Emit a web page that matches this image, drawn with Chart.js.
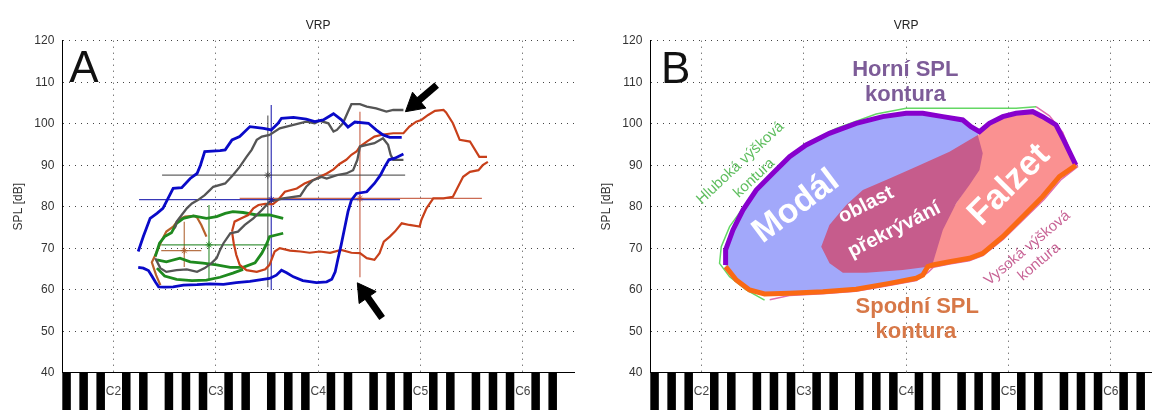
<!DOCTYPE html>
<html>
<head>
<meta charset="utf-8">
<script src="https://cdn.jsdelivr.net/npm/chart.js@4.4.0/dist/chart.umd.min.js"></script>
<style>
    html, body { margin: 0; padding: 0; background: #fff; width: 1152px; height: 410px; overflow: hidden; }
    .panel { position: absolute; top: 0; width: 576px; height: 410px; }
    #panelA { left: 0; }
    #panelB { left: 588px; }
</style>
</head>
<body>
<div class="panel" id="panelA"><canvas id="chartA" width="576" height="410"></canvas></div>
<div class="panel" id="panelB"><canvas id="chartB" width="576" height="410"></canvas></div>
<script>
// x = pitch in semitones (MIDI number, C2 = 36), y = SPL in dB
const PITCH_MIN = 30;
const PITCH_MAX = 90;
const SPL_MIN = 40;
const SPL_MAX = 120;
const octaveTicks = [36, 48, 60, 72, 84];
const octaveLabels = ['C2', 'C3', 'C4', 'C5', 'C6'];
const blackKeyClasses = [1, 3, 6, 8, 10]; // C#, D#, F#, G#, A#

// ---- panel A : measured voice range profiles ----
const blueUpper = [[38.9,69.2],[39.5,72.8],[40.3,77.2],[41.1,78.4],[41.8,79.6],[42.4,82.0],[43.0,84.4],[44.0,84.6],[45.0,86.8],[45.8,88.0],[46.2,90.0],[46.7,93.3],[48.5,93.5],[49.1,93.7],[49.9,96.1],[50.8,96.9],[52.0,99.3],[53.6,98.9],[54.5,98.5],[55.3,100.1],[55.7,101.3],[57.1,101.5],[58.6,101.1],[59.6,100.5],[60.6,100.9],[61.8,102.4],[62.7,101.0],[63.5,99.2],[64.3,100.4],[65.9,100.1],[66.8,98.5],[67.6,97.3],[68.4,96.7],[69.8,96.7]];
const blueLower = [[38.9,65.4],[39.5,65.2],[40.1,64.6],[40.5,63.3],[40.9,61.9],[41.3,60.7],[42.0,60.6],[43.0,60.7],[44.2,61.1],[45.8,61.2],[47.3,61.4],[48.9,61.3],[50.4,61.7],[52.0,62.0],[54.3,62.7],[55.1,63.5],[55.7,64.7],[56.3,64.1],[57.1,63.1],[58.2,62.2],[59.8,61.7],[61.0,61.9],[61.6,62.5],[62.0,64.3],[62.3,67.2],[62.7,70.8],[63.1,74.8],[63.5,78.8],[63.9,81.6],[64.5,83.2],[65.7,83.6],[66.6,85.6],[67.3,87.6],[67.8,89.6],[68.3,91.3],[69.0,91.7],[70.0,92.7]];
const grayUpper = [[43.2,74.8],[43.4,76.4],[44.0,78.0],[44.6,79.6],[45.2,80.8],[45.9,81.6],[46.7,82.8],[47.3,84.0],[47.7,84.8],[49.1,85.6],[50.0,87.6],[50.8,89.6],[51.6,92.0],[52.2,93.7],[52.8,96.1],[53.4,96.9],[54.3,97.3],[55.5,98.9],[57.1,99.7],[58.6,100.5],[59.6,100.1],[60.2,100.7],[61.2,100.1],[61.8,98.1],[62.2,98.5],[62.9,100.1],[63.5,102.9],[63.9,104.7],[64.9,104.7],[65.7,104.1],[66.8,103.7],[68.0,102.9],[68.8,103.3],[70.0,103.3]];
const grayLower = [[40.9,67.6],[41.5,65.2],[42.2,64.3],[43.4,64.7],[44.6,64.9],[45.8,64.3],[46.7,65.2],[47.5,66.4],[48.1,67.6],[48.5,69.6],[48.9,71.2],[49.7,73.6],[50.6,74.0],[51.4,75.6],[52.4,77.2],[53.4,79.2],[54.3,81.2],[55.9,82.0],[57.9,82.6],[58.6,84.8],[59.4,86.4],[60.4,87.2],[61.0,86.8],[62.2,87.6],[63.3,88.0],[64.1,88.8],[64.6,91.3],[64.9,94.5],[65.7,94.9],[66.6,95.3],[67.6,96.5],[68.2,94.9],[68.5,92.5],[68.8,91.3],[70.0,91.3]];
const redUpper = [[49.9,74.0],[50.2,76.4],[51.0,77.2],[51.8,78.0],[52.4,79.6],[53.0,80.4],[53.8,80.7],[54.7,80.6],[55.3,81.6],[56.1,83.6],[57.5,84.4],[58.4,85.6],[59.4,86.4],[60.2,87.2],[61.0,88.0],[61.8,89.0],[62.5,90.3],[63.3,91.3],[63.9,92.5],[64.5,93.3],[64.9,94.5],[65.7,95.7],[66.6,96.9],[67.6,97.4],[68.8,97.7],[70.0,97.7],[70.7,99.3],[71.5,100.5],[72.1,100.9],[72.9,102.1],[73.7,103.1],[74.7,103.3],[75.0,102.7],[75.8,100.1],[76.6,96.1],[77.8,95.7],[78.9,92.0],[79.8,92.0]];
const redLower = [[49.9,74.0],[50.1,71.2],[50.4,68.4],[50.8,66.0],[51.6,64.7],[52.8,64.3],[53.8,64.9],[54.3,66.0],[54.9,69.2],[55.5,70.0],[56.7,69.4],[57.9,69.2],[59.0,68.9],[60.2,69.2],[61.4,68.9],[62.7,69.6],[63.9,68.9],[64.9,68.8],[65.7,67.6],[66.6,67.2],[67.2,68.8],[67.7,71.6],[68.4,72.8],[69.0,74.0],[69.8,76.0],[70.7,75.6],[71.9,75.2],[72.1,76.8],[72.7,79.6],[73.5,82.0],[74.7,82.0],[75.8,82.4],[76.4,84.8],[77.0,87.2],[77.8,88.4],[78.8,88.8],[79.3,90.0],[79.9,90.8]];
const greenUpper = [[40.9,68.0],[41.4,71.2],[42.0,72.8],[42.8,73.7],[43.4,76.0],[44.2,77.2],[45.4,77.8],[46.9,77.2],[48.1,77.6],[49.1,78.4],[50.0,78.8],[51.2,78.6],[52.8,78.0],[54.3,78.0],[55.9,77.2]];
const greenMiddle = [[41.1,67.2],[42.2,66.7],[43.8,67.6],[45.0,66.7],[46.5,66.4],[48.1,66.0],[49.7,65.4],[51.2,65.4],[52.6,66.5],[53.4,68.8],[54.0,71.2],[54.3,72.8],[55.9,73.6]];
const greenLower = [[41.1,65.2],[42.0,63.3],[43.4,62.5],[45.2,62.2],[46.9,62.3],[48.5,63.0],[50.0,64.0],[51.2,64.9]];
const orangeLoop = [[41.5,61.1],[41.0,63.5],[40.5,66.6],[41.1,69.2],[41.6,71.6],[42.2,74.0],[43.0,75.2],[43.6,76.8],[44.4,77.6],[45.4,77.8],[45.8,77.4],[46.3,75.6],[46.9,72.8]];

// crosshairs: horizontal span, vertical span, centre (mean pitch, mean SPL)
const blueCross   = { h: [39.0, 69.6], v: [59.9, 104.5], c: [54.5, 81.7] };
const grayCross   = { h: [41.7, 70.2], v: [60.6, 102.0], c: [54.1, 87.6] };
const redCross    = { h: [50.8, 79.2], v: [63.0, 102.9], c: [64.9, 82.0] };
const greenCross  = { h: [41.6, 54.3], v: [62.2, 80.4], c: [47.2, 70.8] };
const orangeCross = { h: [41.6, 46.3], v: [65.5, 76.4], c: [44.3, 69.4] };

// arrows: [tail, tip]
const arrowUpper = [[73.9, 109.3], [70.2, 102.8]];
const arrowLower = [[67.5, 53.2], [64.5, 61.9]];

// ---- panel B : schematic contours ----
const upperContour = [[38.83,65.95],[38.83,69.57],[39.69,74.39],[40.86,79.2],[42.42,84.0],[44.37,88.04],[46.33,92.06],[48.28,94.87],[51.0,97.68],[54.14,100.09],[57.26,101.7],[60.0,102.5],[61.95,102.5],[64.3,101.7],[66.64,100.9],[67.6,99.3],[68.6,98.1],[69.76,100.09],[71.33,101.7],[72.89,102.5],[74.84,102.9],[76.0,101.7],[77.58,99.69],[78.5,96.0],[79.9,90.0]];
const lowerContour = [[38.83,65.55],[40.08,62.33],[41.64,59.93],[43.4,58.96],[46.33,59.12],[50.23,59.5],[54.14,60.1],[58.05,61.53],[61.17,62.74],[61.95,63.54],[62.54,65.55],[63.12,65.95],[65.08,66.75],[67.42,67.56],[68.98,68.76],[71.33,72.78],[73.67,77.6],[76.0,82.42],[77.97,87.24],[79.9,90.0]];
const lowPitchContour = [[43.4,57.5],[41.25,59.93],[39.3,63.1],[38.12,66.35],[38.32,70.37],[39.3,75.2],[41.25,80.8],[43.6,86.43],[46.33,91.65],[48.28,95.27],[51.8,98.88],[56.48,102.34],[60.0,103.7],[68.98,103.7],[72.89,103.7],[75.23,104.1]];
const highPitchContour = [[75.23,104.1],[76.8,101.9],[78.36,97.9],[79.3,93.0],[80.1,89.6],[78.2,86.6],[76.2,81.8],[73.8,77.0],[71.4,72.2],[69.0,68.2],[67.4,67.0],[65.1,66.2],[63.2,65.4],[62.6,64.2],[61.2,62.2],[58.0,61.0],[54.1,59.6],[50.2,59.0],[46.3,58.6],[44.0,57.6]];
const overlapRegion = [[50.04,70.37],[51.0,75.6],[52.97,80.4],[54.92,84.0],[58.05,86.8],[61.17,89.65],[65.08,93.26],[68.4,97.28],[68.98,92.86],[68.6,88.84],[67.42,85.23],[65.86,80.8],[64.3,74.39],[63.12,66.35],[62.54,65.55],[59.6,64.75],[55.31,64.1],[52.58,64.1],[51.02,66.35]];
const falsettoLeftEdge = [[62.54,67.96],[64.3,76.0],[67.42,85.6],[68.4,96.9]];

const FONT = "'Liberation Sans', Arial, Helvetica, sans-serif";
const toXY = pts => pts.map(([x, y]) => ({ x, y }));

// modal region: upper contour up to the dip, lower contour back to the start
const dipIndex = 16;
const lowerJoinIndex = 10;
const modalRegion = upperContour.slice(0, dipIndex + 1)
    .concat(lowerContour.slice(0, lowerJoinIndex + 1).reverse());
// falsetto region: upper contour from the dip, lower contour back, then left edge
const falsettoRegion = upperContour.slice(dipIndex)
    .concat(lowerContour.slice(lowerJoinIndex).reverse())
    .concat(falsettoLeftEdge);

// black keys drawn under the x axis
const keyboardPlugin = {
    id: 'keyboard',
    beforeDraw(chart) {
        const { ctx, chartArea, scales: { x } } = chart;
        ctx.save();
        ctx.fillStyle = '#000';
        for (let n = Math.ceil(x.min); n < x.max; n++) {
            if (!blackKeyClasses.includes(n % 12)) continue;
            const x0 = x.getPixelForValue(n);
            const x1 = x.getPixelForValue(n + 1);
            ctx.fillRect(x0, chartArea.bottom, x1 - x0, chart.height - chartArea.bottom);
        }
        ctx.restore();
    }
};

function makeTextPlugin(items) {
    return {
        id: 'panelText',
        afterDatasetsDraw(chart) {
            const { ctx, scales: { x, y } } = chart;
            items.forEach(item => {
                ctx.save();
                ctx.translate(x.getPixelForValue(item.at[0]), y.getPixelForValue(item.at[1]));
                ctx.rotate(item.angle * Math.PI / 180);
                ctx.font = `${item.weight} ${item.size}px ${FONT}`;
                ctx.fillStyle = item.color;
                ctx.textAlign = 'center';
                ctx.textBaseline = 'middle';
                ctx.fillText(item.text, 0, 0);
                ctx.restore();
            });
        }
    };
}

function lineSet(pts, color, width, order) {
    return { data: toXY(pts), borderColor: color, borderWidth: width, pointRadius: 0, tension: 0, fill: false, order: order || 1 };
}

function crossSets(cross, color) {
    return [
        lineSet([[cross.h[0], cross.c[1]], [cross.h[1], cross.c[1]]], color, 1.2, 5),
        lineSet([[cross.c[0], cross.v[0]], [cross.c[0], cross.v[1]]], color, 1.2, 5),
        { data: toXY([cross.c]), borderColor: color, borderWidth: 1, pointStyle: 'star', pointRadius: 3.5, showLine: false, order: 0 }
    ];
}

function arrowSets(arrow, rotation) {
    const [tail, tip] = arrow;
    const head = [tip[0] + (tail[0] - tip[0]) * 0.3, tip[1] + (tail[1] - tip[1]) * 0.3];
    return [
        lineSet([tail, head], '#000', 7, 0),
        { data: toXY([head]), backgroundColor: '#000', borderColor: '#000', borderWidth: 1, pointStyle: 'triangle', pointRadius: 12, rotation: rotation, showLine: false, order: 0 }
    ];
}

function baseOptions() {
    return {
        responsive: false,
        animation: false,
        events: [],
        layout: { autoPadding: false, padding: { top: 0, right: 2, bottom: 0, left: 0 } },
        plugins: {
            legend: { display: false },
            tooltip: { enabled: false },
            title: {
                display: true, text: 'VRP', fullSize: false, color: '#222',
                font: { family: FONT, size: 12, weight: 'normal' },
                padding: { top: 18, bottom: 8.3 }
            }
        },
        scales: {
            x: {
                type: 'linear', min: PITCH_MIN, max: PITCH_MAX,
                afterBuildTicks: s => { s.ticks = octaveTicks.map(v => ({ value: v })); },
                afterFit: s => { s.height = 37.3; },
                grid: { color: '#444', lineWidth: 1, drawTicks: false },
                border: { display: true, color: '#000', width: 1, dash: [1, 5] },
                ticks: {
                    autoSkip: false, maxRotation: 0, padding: 12, color: '#444',
                    font: { family: FONT, size: 12 },
                    callback: v => octaveLabels[octaveTicks.indexOf(v)] || ''
                }
            },
            y: {
                min: SPL_MIN, max: SPL_MAX,
                afterFit: s => { s.width = 62.3; },
                grid: { color: '#444', lineWidth: 1, drawTicks: false },
                border: { display: true, color: '#000', width: 1, dash: [1, 5] },
                ticks: { stepSize: 10, padding: 8, color: '#333', font: { family: FONT, size: 12 } },
                title: { display: true, text: 'SPL [dB]', color: '#333', font: { family: FONT, size: 12 }, padding: { top: 11, bottom: 0 } }
            }
        }
    };
}

const BLUE = '#0a0ac8', GRAY = '#555555', RED = '#c8401a', GREEN = '#1f8a1f', ORANGE = '#b8602a';

new Chart(document.getElementById('chartA'), {
    type: 'line',
    data: {
        datasets: [
            lineSet(blueUpper, BLUE, 2.8, 2),
            lineSet(blueLower, BLUE, 2.8, 2),
            lineSet(grayUpper, GRAY, 2.3, 2),
            lineSet(grayLower, GRAY, 2.3, 2),
            lineSet(redUpper, RED, 2.2, 2),
            lineSet(redLower, RED, 2.2, 2),
            lineSet(greenUpper, GREEN, 2.8, 2),
            lineSet(greenMiddle, GREEN, 2.8, 2),
            lineSet(greenLower, GREEN, 2.8, 2),
            lineSet(orangeLoop, ORANGE, 2.2, 2),
            ...crossSets(blueCross, 'rgba(20,20,170,0.85)'),
            ...crossSets(grayCross, 'rgba(70,70,70,0.85)'),
            ...crossSets(redCross, 'rgba(190,70,40,0.8)'),
            ...crossSets(greenCross, 'rgba(30,130,30,0.85)'),
            ...crossSets(orangeCross, 'rgba(170,90,40,0.85)'),
            ...arrowSets(arrowUpper, 230),
            ...arrowSets(arrowLower, -35)
        ]
    },
    options: baseOptions(),
    plugins: [keyboardPlugin, makeTextPlugin([
        { text: 'A', at: [32.55, 112.9], angle: 0, size: 44, weight: 'normal', color: '#111' }
    ])]
});

new Chart(document.getElementById('chartB'), {
    type: 'line',
    data: {
        datasets: [
            { data: toXY(modalRegion), backgroundColor: 'rgb(162,168,250)', borderWidth: 0, pointRadius: 0, tension: 0, fill: 'shape', order: 10 },
            { data: toXY(falsettoRegion), backgroundColor: 'rgb(250,145,145)', borderWidth: 0, pointRadius: 0, tension: 0, fill: 'shape', order: 9 },
            { data: toXY(overlapRegion), backgroundColor: 'rgb(198,92,140)', borderWidth: 0, pointRadius: 0, tension: 0, fill: 'shape', order: 8 },
            lineSet(lowPitchContour, 'rgb(100,215,100)', 1.5, 5),
            lineSet(highPitchContour, 'rgb(225,110,175)', 1.5, 5),
            lineSet(upperContour, 'rgb(135,0,205)', 5, 3),
            lineSet(lowerContour, 'rgb(250,105,20)', 5, 2)
        ]
    },
    options: baseOptions(),
    plugins: [keyboardPlugin, makeTextPlugin([
        { text: 'B', at: [32.97, 112.8], angle: 0, size: 44, weight: 'normal', color: '#111' },
        { text: 'Horní SPL', at: [59.9, 112.9], angle: 0, size: 22, weight: 'bold', color: 'rgb(125,92,152)' },
        { text: 'kontura', at: [59.9, 107.0], angle: 0, size: 22, weight: 'bold', color: 'rgb(125,92,152)' },
        { text: 'Spodní SPL', at: [61.3, 55.8], angle: 0, size: 22, weight: 'bold', color: 'rgb(215,120,72)' },
        { text: 'kontura', at: [61.15, 49.9], angle: 0, size: 22, weight: 'bold', color: 'rgb(215,120,72)' },
        { text: 'Modál', at: [47.1, 80.0], angle: -37, size: 34, weight: 'bold', color: '#fff' },
        { text: 'oblast', at: [55.3, 80.4], angle: -27, size: 20, weight: 'bold', color: '#fff' },
        { text: 'překrývání', at: [58.6, 74.4], angle: -27, size: 20, weight: 'bold', color: '#fff' },
        { text: 'Falzet', at: [72.1, 85.2], angle: -45, size: 35, weight: 'bold', color: '#fff' },
        { text: 'Hluboká výšková', at: [40.55, 90.5], angle: -43, size: 15, weight: 'normal', color: 'rgb(95,190,95)' },
        { text: 'kontura', at: [42.2, 86.9], angle: -43, size: 15, weight: 'normal', color: 'rgb(95,190,95)' },
        { text: 'Vysoká výšková', at: [74.2, 70.0], angle: -40, size: 15, weight: 'normal', color: 'rgb(200,100,150)' },
        { text: 'kontura', at: [75.6, 66.7], angle: -40, size: 15, weight: 'normal', color: 'rgb(200,100,150)' }
    ])]
});
</script>
</body>
</html>
